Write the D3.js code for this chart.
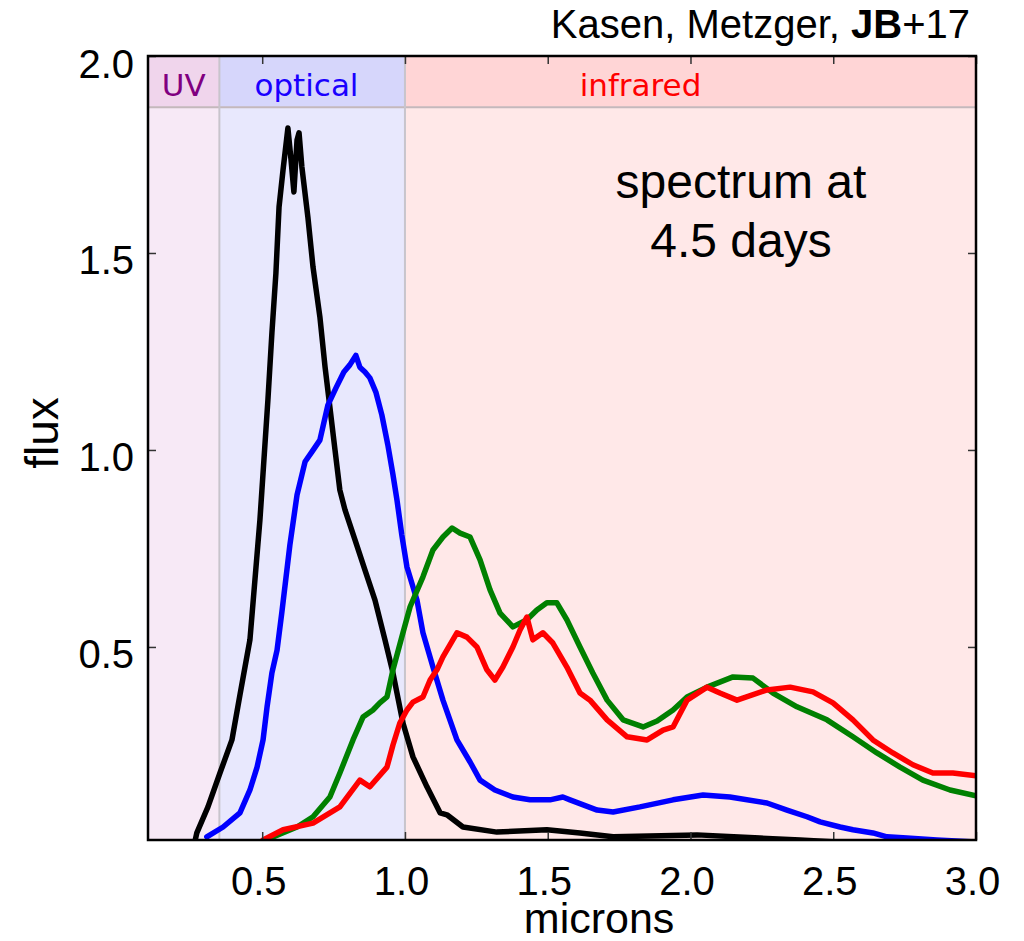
<!DOCTYPE html>
<html>
<head>
<meta charset="utf-8">
<script src="https://cdn.jsdelivr.net/npm/d3@7"></script>
<style>
  body { margin: 0; background: #fff; }
  svg text { font-family: "Liberation Sans", Arial, sans-serif; }
</style>
</head>
<body>
<div id="chart"></div>
<script>
// spectrum at 4.5 days, four models: [microns, flux]
var blackSeries = [
  [0.264,0.005],[0.271,0.028],[0.310,0.094],[0.352,0.180],[0.394,0.264],[0.422,0.378],
  [0.457,0.518],[0.492,0.822],[0.520,1.127],[0.534,1.297],[0.548,1.449],[0.559,1.617],
  [0.573,1.711],[0.590,1.817],[0.601,1.736],[0.611,1.655],[0.622,1.787],[0.629,1.805],
  [0.639,1.718],[0.660,1.591],[0.678,1.464],[0.702,1.338],[0.720,1.211],[0.734,1.127],
  [0.755,1.000],[0.772,0.898],[0.790,0.848],[0.825,0.772],[0.860,0.695],[0.895,0.619],
  [0.930,0.518],[0.958,0.434],[0.993,0.307],[1.028,0.221],[1.077,0.145],[1.123,0.079],
  [1.147,0.074],[1.203,0.043],[1.322,0.030],[1.497,0.036],[1.613,0.028],[1.729,0.018],
  [2.023,0.023],[2.243,0.015],[2.384,0.010],[2.559,0.003]
];
var blueSeries = [
  [0.306,0.018],[0.363,0.043],[0.422,0.079],[0.457,0.137],[0.482,0.195],[0.503,0.264],
  [0.517,0.348],[0.534,0.434],[0.552,0.492],[0.569,0.589],[0.597,0.759],[0.622,0.886],
  [0.650,0.970],[0.674,0.995],[0.702,1.025],[0.730,1.114],[0.758,1.157],[0.786,1.198],
  [0.807,1.216],[0.828,1.240],[0.842,1.210],[0.860,1.198],[0.877,1.183],[0.898,1.147],
  [0.919,1.089],[0.940,1.013],[0.958,0.937],[0.972,0.873],[0.989,0.784],[1.007,0.703],
  [1.042,0.619],[1.063,0.536],[1.098,0.449],[1.133,0.365],[1.182,0.264],[1.228,0.208],
  [1.263,0.162],[1.315,0.137],[1.378,0.119],[1.438,0.112],[1.508,0.112],[1.553,0.119],
  [1.578,0.112],[1.673,0.086],[1.729,0.081],[1.823,0.094],[1.939,0.112],[2.044,0.124],
  [2.138,0.119],[2.268,0.104],[2.338,0.086],[2.408,0.069],[2.454,0.056],[2.524,0.043],
  [2.569,0.036],[2.639,0.028],[2.688,0.018],[2.758,0.015],[2.863,0.010],[3.000,0.005]
];
var greenSeries = [
  [0.510,0.005],[0.538,0.018],[0.622,0.043],[0.678,0.069],[0.737,0.119],[0.772,0.180],
  [0.818,0.264],[0.853,0.322],[0.888,0.340],[0.912,0.358],[0.937,0.373],[0.958,0.442],
  [0.993,0.536],[1.018,0.602],[1.063,0.678],[1.098,0.746],[1.133,0.779],[1.165,0.802],
  [1.193,0.789],[1.228,0.779],[1.263,0.721],[1.298,0.645],[1.333,0.586],[1.378,0.551],
  [1.427,0.569],[1.462,0.594],[1.497,0.612],[1.532,0.612],[1.567,0.569],[1.613,0.500],
  [1.658,0.434],[1.708,0.365],[1.764,0.315],[1.834,0.297],[1.883,0.312],[1.939,0.340],
  [1.988,0.373],[2.058,0.398],[2.149,0.424],[2.219,0.421],[2.289,0.383],[2.373,0.348],
  [2.478,0.315],[2.569,0.272],[2.653,0.231],[2.734,0.195],[2.814,0.162],[2.909,0.137],
  [3.000,0.122]
];
var redSeries = [
  [0.503,0.010],[0.573,0.036],[0.678,0.053],[0.772,0.094],[0.842,0.162],[0.877,0.145],
  [0.937,0.195],[0.958,0.251],[0.982,0.307],[1.007,0.340],[1.028,0.360],[1.063,0.373],
  [1.088,0.416],[1.112,0.442],[1.133,0.475],[1.182,0.536],[1.217,0.525],[1.252,0.500],
  [1.287,0.442],[1.315,0.416],[1.343,0.449],[1.378,0.500],[1.403,0.543],[1.427,0.576],
  [1.448,0.518],[1.483,0.536],[1.518,0.510],[1.567,0.449],[1.613,0.383],[1.648,0.365],
  [1.708,0.315],[1.778,0.272],[1.848,0.264],[1.904,0.289],[1.939,0.297],[1.988,0.365],
  [2.058,0.398],[2.103,0.383],[2.163,0.365],[2.268,0.391],[2.349,0.398],[2.429,0.386],
  [2.499,0.358],[2.569,0.315],[2.639,0.264],[2.709,0.231],[2.779,0.201],[2.849,0.180],
  [2.919,0.180],[3.000,0.173]
];

// wavelength bands: name, start, end
var bandNames = ["UV", "optical", "infrared"];
var bandEdges = [0.1, 0.35, 1.0, 3.0];
var headerFloor = 1.87;

var xTicks = [0.5, 1.0, 1.5, 2.0, 2.5, 3.0];
var yTicks = [0.5, 1.0, 1.5, 2.0];

var xDomain = [0.1, 3.0],
    yDomain = [0.01, 2.0];

var margin = {top: 56, right: 48, bottom: 101, left: 148},
    width = 1024 - margin.left - margin.right,
    height = 941 - margin.top - margin.bottom;

var xScale = d3.scaleLinear().domain(xDomain).range([0, width]);
var yScale = d3.scaleLinear().domain(yDomain).range([height, 0]);

var svg = d3.select("#chart").append("svg")
    .attr("width", 1024)
    .attr("height", 941);

var g = svg.append("g")
    .attr("transform", "translate(" + margin.left + "," + margin.top + ")");

// band backgrounds
var bodyColors = ["#f7e9f6", "#e8e8fd", "#ffe8e8"];
var headColors = ["#f0d5ec", "#d6d6fb", "#ffd5d6"];
var textColors = ["#800080", "#1a00ff", "#ff0000"];
bandNames.forEach(function(name, i) {
    var x0 = xScale(bandEdges[i]), x1 = xScale(bandEdges[i + 1]);
    g.append("rect")
        .attr("x", x0).attr("y", yScale(headerFloor))
        .attr("width", x1 - x0).attr("height", height - yScale(headerFloor))
        .attr("fill", bodyColors[i]);
    g.append("rect")
        .attr("x", x0).attr("y", 0)
        .attr("width", x1 - x0).attr("height", yScale(headerFloor))
        .attr("fill", headColors[i]);
});
// header separator and band dividers
g.append("line")
    .attr("x1", 0).attr("x2", width)
    .attr("y1", yScale(headerFloor)).attr("y2", yScale(headerFloor))
    .attr("stroke", "#c4b8bc").attr("stroke-width", 2);
[bandEdges[1], bandEdges[2]].forEach(function(e) {
    g.append("line")
        .attr("x1", xScale(e)).attr("x2", xScale(e))
        .attr("y1", 0).attr("y2", height)
        .attr("stroke", "#c8c4cc").attr("stroke-width", 2);
});
// band labels
var labelCenters = [0.225, 0.655, 1.825];
bandNames.forEach(function(name, i) {
    g.append("text")
        .attr("x", xScale(labelCenters[i]))
        .attr("y", 40)
        .attr("text-anchor", "middle")
        .style("font-family", "'DejaVu Sans', sans-serif")
        .style("font-size", "31px")
        .attr("fill", textColors[i])
        .text(name);
});

// clip for spectra
g.append("clipPath").attr("id", "plotclip")
    .append("rect").attr("width", width).attr("height", height);

var line = d3.line()
    .x(function(d) { return xScale(d[0]); })
    .y(function(d) { return yScale(d[1]); });

var series = [
    {data: blackSeries, color: "#000000"},
    {data: blueSeries, color: "#0000ff"},
    {data: greenSeries, color: "#008000"},
    {data: redSeries, color: "#ff0000"}
];
series.forEach(function(s) {
    g.append("path")
        .datum(s.data)
        .attr("clip-path", "url(#plotclip)")
        .attr("fill", "none")
        .attr("stroke", s.color)
        .attr("stroke-width", 5.5)
        .attr("stroke-linejoin", "round")
        .attr("stroke-linecap", "round")
        .attr("d", line);
});

// axes with inward ticks
var xAxis = g.append("g")
    .attr("transform", "translate(0," + height + ")")
    .call(d3.axisBottom(xScale).tickValues(xTicks).tickSize(-8).tickFormat(d3.format(".1f")));
xAxis.selectAll("text")
    .attr("y", 55).attr("dy", 0).attr("dx", -4)
    .style("font-size", "40px").attr("fill", "#000");
g.append("g")
    .call(d3.axisTop(xScale).tickValues(xTicks).tickSize(-8).tickFormat(""));

var yAxis = g.append("g")
    .call(d3.axisLeft(yScale).tickValues(yTicks).tickSize(-8).tickFormat(d3.format(".1f")));
yAxis.selectAll("text")
    .attr("x", -14).attr("dy", 0).attr("y", 21)
    .style("font-size", "40px").attr("fill", "#000");
g.append("g")
    .attr("transform", "translate(" + width + ",0)")
    .call(d3.axisRight(yScale).tickValues(yTicks).tickSize(-8).tickFormat(""));

g.selectAll(".domain").remove();
g.selectAll(".tick line").attr("stroke", "#333").attr("stroke-width", 1.5);

// frame
g.append("rect")
    .attr("width", width).attr("height", height)
    .attr("fill", "none").attr("stroke", "#000").attr("stroke-width", 2.5);

// axis titles
svg.append("text")
    .attr("x", margin.left + xScale(1.68))
    .attr("y", 933)
    .attr("text-anchor", "middle")
    .style("font-size", "43px")
    .text("microns");
svg.append("text")
    .attr("transform", "translate(58,433) rotate(-90)")
    .attr("text-anchor", "middle")
    .style("font-size", "46px")
    .text("flux");

// annotation
var note = svg.append("text")
    .attr("text-anchor", "middle")
    .style("font-size", "48px");
note.append("tspan").attr("x", 741).attr("y", 198).text("spectrum at");
note.append("tspan").attr("x", 741).attr("y", 257).text("4.5 days");

// credit
var credit = svg.append("text")
    .attr("x", 970).attr("y", 38)
    .attr("text-anchor", "end")
    .style("font-size", "40px");
credit.append("tspan").text("Kasen, Metzger, ");
credit.append("tspan").style("font-weight", "bold").text("JB");
credit.append("tspan").text("+17");
</script>
</body>
</html>
